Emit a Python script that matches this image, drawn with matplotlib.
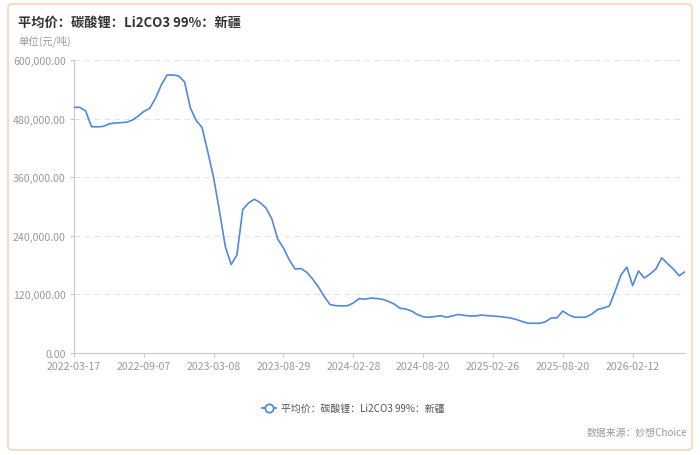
import matplotlib
matplotlib.use("Agg")
import matplotlib.pyplot as plt
from matplotlib.patches import FancyBboxPatch
from matplotlib.lines import Line2D
from matplotlib.ticker import FuncFormatter

plt.rcParams["font.family"] = ["Noto Sans CJK SC", "DejaVu Sans"]

# ---------- Data (one point per ~1/12 tick interval) ----------
tick_labels = ["2022-03-17", "2022-09-07", "2023-03-08", "2023-08-29", "2024-02-28",
               "2024-08-20", "2025-02-26", "2025-08-20", "2026-02-12"]
points_per_tick = 12

prices = [
    503000, 503000, 495600, 463500, 463000, 464000, 469000, 471000, 471600, 472500,
    476600, 485000, 494600, 500700, 521600, 548900, 569300, 569300, 567300, 555000,
    501800, 476000, 461800, 411600, 358400, 290800, 218100, 181200, 200700, 293900,
    307200, 314800, 307800, 297000, 274400, 233500, 215000, 190500, 172000, 173000,
    165300, 151600, 135200, 115700, 99300, 96900, 96300, 96700, 102400, 111600,
    110000, 112600, 111600, 110000, 105900, 100400, 91800, 90100, 86000, 78800,
    74300, 73100, 74800, 76400, 73100, 75800, 78800, 77200, 75800, 75800,
    77800, 76400, 75800, 74800, 73300, 71700, 68600, 64500, 61000, 60800,
    60800, 63900, 71700, 72100, 86000, 78200, 73100, 73100, 73700, 79900,
    89100, 92200, 96300, 127000, 159700, 176000, 138000, 168000, 153600, 161800,
    172000, 195000, 183000, 172000, 158000, 166500,
]

title = "平均价：碳酸锂：Li2CO3 99%：新疆"
unit_label = "单位(元/吨)"
source_label = "数据来源：妙想Choice"
y_ticks = [0, 120000, 240000, 360000, 480000, 600000]

# ---------- Figure ----------
fig = plt.figure(figsize=(7, 4.56), dpi=100)
W, H = 700, 456

# rounded card border
card = FancyBboxPatch((8 / W, 5 / H), 684 / W, 446 / H,
                      boxstyle="round,pad=0,rounding_size=0.008",
                      transform=fig.transFigure, facecolor="white",
                      edgecolor="#fbd3b4", linewidth=1.2, zorder=-5)
fig.patches.append(card)

fig.text(18 / W, 1 - 23 / H, title, fontsize=9.5, fontweight="bold",
         color="#333333", va="center", ha="left")
fig.text(18 / W, 1 - 41 / H, unit_label, fontsize=7.5, color="#999999",
         va="center", ha="left")

ax = fig.add_axes([74 / W, 1 - 354 / H, 611 / W, 293 / H])
ax.patch.set_alpha(0)
x = list(range(len(prices)))
line_color = "#5089de"
ax.plot(x, prices, color=line_color, linewidth=1.2, zorder=3)

ax.set_xlim(0, len(prices) - 1)
ax.set_ylim(0, 600000)
ax.set_yticks(y_ticks)
ax.yaxis.set_major_formatter(FuncFormatter(lambda v, p: f"{v:,.2f}"))
ax.set_xticks([i * points_per_tick for i in range(len(tick_labels))])
ax.set_xticklabels(tick_labels)

for v in y_ticks[1:]:
    ax.axhline(v, color="#e3e3e3", linewidth=0.8, linestyle=(0, (5, 4)), zorder=1)

for side in ["top", "right"]:
    ax.spines[side].set_visible(False)
ax.spines["left"].set_color("#c8c8c8")
ax.spines["bottom"].set_color("#c8c8c8")
ax.tick_params(axis="both", colors="#c8c8c8", labelcolor="#999999",
               labelsize=7.6, length=3, width=0.8)
ax.tick_params(axis="x", pad=3)
ax.tick_params(axis="y", pad=3)

# legend
leg_y = 1 - 409 / H
fig.add_artist(Line2D([262 / W, 276 / W], [leg_y, leg_y], color=line_color,
                      linewidth=1.3, transform=fig.transFigure))
fig.add_artist(Line2D([269 / W], [leg_y], marker="o", markersize=6,
                      markerfacecolor="white", markeredgecolor=line_color,
                      markeredgewidth=1.3, transform=fig.transFigure))
fig.text(281 / W, leg_y, title, fontsize=7.1, color="#555555",
         va="center", ha="left")

fig.text(687 / W, 1 - 433 / H, source_label, fontsize=7.1, color="#999999",
         va="center", ha="right")

fig.savefig("out.png", dpi=100)
